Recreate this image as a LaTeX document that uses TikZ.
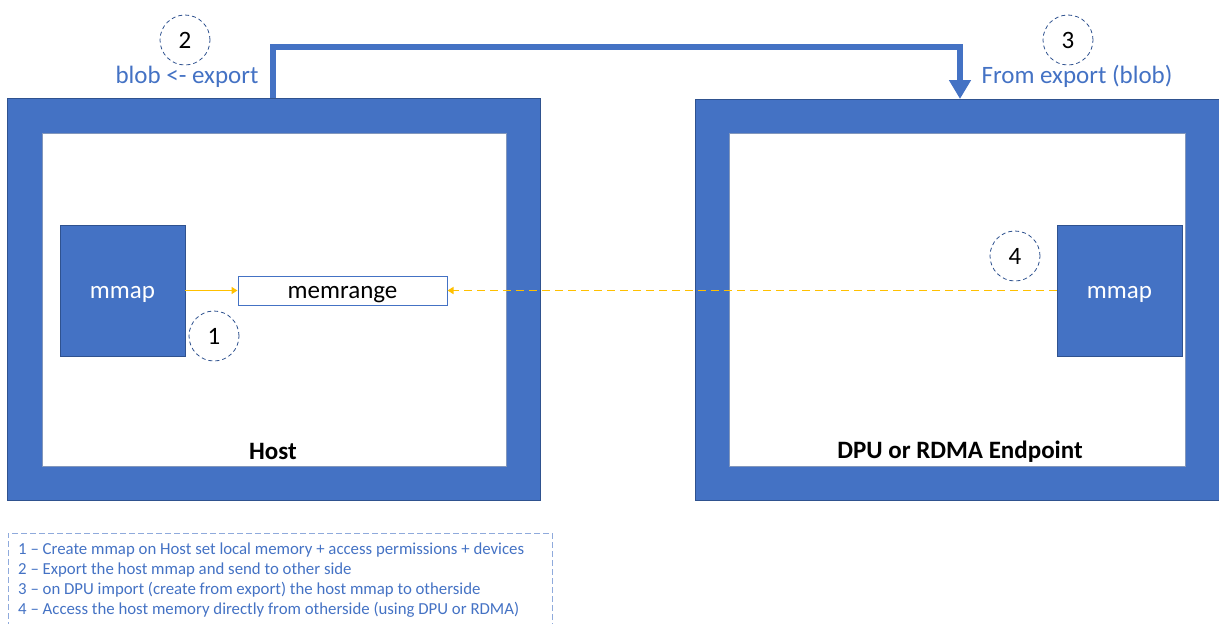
\documentclass[tikz,border=0pt]{standalone}
\usepackage{fontspec}
\setmainfont{Carlito}
\usetikzlibrary{arrows.meta}
\definecolor{msblue}{HTML}{4472C4}
\definecolor{msdark}{HTML}{2F528F}
\definecolor{msgold}{HTML}{FFC000}
\definecolor{mslight}{HTML}{8FAADC}
\tikzset{
  frame/.style={fill=msblue, draw=msdark, line width=0.6pt, inner sep=0pt},
  pane/.style={fill=white, draw=msdark!60, line width=0.5pt, inner sep=0pt},
  bigfont/.style={font=\fontsize{25}{28}\selectfont},
  mapbox/.style={bigfont, fill=msblue, draw=msdark, line width=0.8pt, inner sep=0pt,
    minimum width=125pt, minimum height=131pt, text=white,
    text height=18pt, text depth=3pt},
  rangebox/.style={bigfont, fill=white, draw=msblue, line width=1pt, inner sep=0pt,
    minimum width=209pt, minimum height=29pt,
    text height=18pt, text depth=2pt},
  stepmark/.style={bigfont, circle, draw=msdark, dashed, dash pattern=on 4pt off 3pt,
    line width=0.8pt, minimum size=50pt, inner sep=0pt},
  steptext/.style={bigfont, text=msblue, inner sep=0pt},
  sidetitle/.style={font=\bfseries\fontsize{25}{28}\selectfont, inner sep=0pt},
  bigarrow/.style={draw=msblue, line width=6pt, -{Triangle[width=21pt,length=19pt]}},
  goldarrow/.style={draw=msgold, line width=1.8pt, -{Triangle[width=7pt,length=6pt]}},
}
\begin{document}
\begin{tikzpicture}[x=1pt,y=-1pt]
\useasboundingbox (0,0) rectangle (1219,624);
\clip (0,0) rectangle (1219,624);

% host side
\node[frame, minimum width=533pt, minimum height=402pt] (hostframe) at (273.5,299) {};
\node[pane, minimum width=464pt, minimum height=333pt] (hostpane) at (274,299.5) {};
\node[sidetitle] (hosttitle) at (273,451.5) {Host};
\node[mapbox] (hostmap) at (122.5,290.5) {mmap};
\node[rangebox] (range) at (342.5,290.5) {memrange};
\node[stepmark] (s1) at (214,336) {1};

% DPU side
\node[frame, minimum width=526pt, minimum height=401pt] (dpuframe) at (958,299.5) {};
\node[pane, minimum width=456pt, minimum height=333pt] (dpupane) at (957,299.5) {};
\node[sidetitle] (dputitle) at (960,451.5) {DPU or RDMA Endpoint};
\node[mapbox] (dpumap) at (1119.5,290.5) {mmap};
\node[stepmark] (s4) at (1015,256) {4};

% export / import labels
\node[stepmark] (s2) at (185,40) {2};
\node[steptext] (exportlbl) at (187,76.5) {blob <- export};
\node[stepmark] (s3) at (1068,40) {3};
\node[steptext] (importlbl) at (1077,76.5) {From export (blob)};

% connectors
\coordinate (bendA) at (273,47);
\coordinate (bendB) at (960,47);
\coordinate (arrowEnd) at (960,99);
\draw[bigarrow] (hostframe.north -| bendA) -- (bendA) -- (bendB) -- (arrowEnd);
\draw[goldarrow] (hostmap.east) -- (range.west);
\draw[goldarrow, dashed, dash pattern=on 8pt off 5pt] (dpumap.west) -- (range.east);

% legend
\node[draw=mslight, dashed, dash pattern=on 6pt off 3pt, line width=0.8pt,
  minimum width=544pt, minimum height=110pt, inner sep=0pt] (legend) at (280,588) {};
\node[anchor=north west, align=left, text=msblue, inner sep=0pt,
  font=\fontsize{16.8}{20}\selectfont] (legendtext) at (18,543)
  {1 – Create mmap on Host set local memory + access permissions + devices\\
   2 – Export the host mmap and send to other side\\
   3 – on DPU import (create from export) the host mmap to otherside\\
   4 – Access the host memory directly from otherside (using DPU or RDMA)};
\end{tikzpicture}
\end{document}
